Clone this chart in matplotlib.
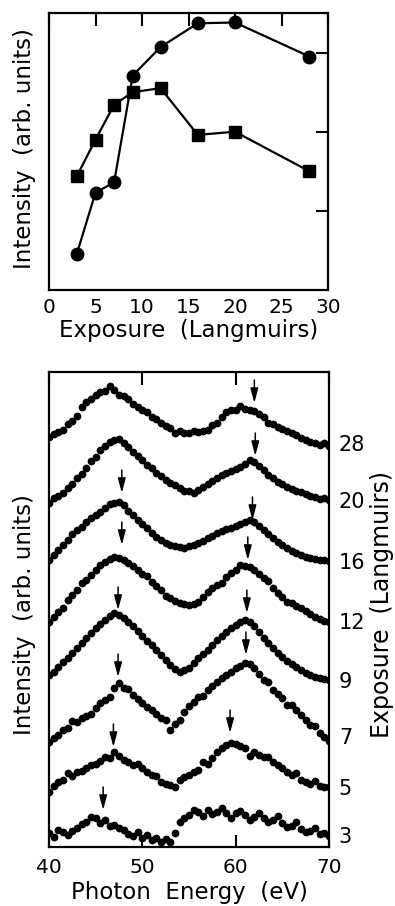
import numpy as np
import matplotlib
matplotlib.use('Agg')
import matplotlib.pyplot as plt
import matplotlib.transforms as mtransforms


# uptake curves, intensity vs exposure
exposure = [3, 5, 7, 9, 12, 16, 20, 28]
intensity_circles = [0.46, 1.23, 1.36, 2.71, 3.07, 3.37, 3.38, 2.95]
intensity_squares = [1.44, 1.90, 2.34, 2.50, 2.55, 1.96, 2.00, 1.50]

# spectra, 40-70 eV in 0.5 eV steps, intensity relative to each curve's baseline
photon_energy = np.arange(40.0, 70.01, 0.5)
spectrum_labels = ['28', '20', '16', '12', '9', '7', '5', '3']
spectrum_offsets = [402, 345, 284, 224, 165, 109, 58, 10]

spec_28 = [8, 11, 13, 15, 21, 24, 29, 38, 43, 46, 50, 53, 54, 59, 55, 50, 49, 46, 41, 38,
           35, 33, 28, 26, 22, 19, 17, 12, 14, 12, 12, 14, 13, 14, 15, 20, 22, 28, 33, 35,
           35, 39, 36, 35, 34, 31, 28, 22, 21, 18, 16, 14, 12, 10, 7, 5, 3, 2, 0, 2, -1]
spec_20 = [-1, 4, 6, 9, 14, 18, 24, 28, 34, 41, 45, 52, 56, 60, 62, 63, 59, 55, 50, 46,
           42, 37, 34, 29, 26, 22, 19, 17, 14, 11, 11, 9, 12, 15, 18, 21, 24, 27, 29, 31,
           33, 35, 38, 42, 40, 36, 32, 27, 24, 20, 18, 15, 13, 11, 10, 8, 6, 5, 3, 4, 2]
spec_16 = [3, 8, 13, 18, 23, 29, 33, 36, 41, 45, 48, 51, 55, 59, 60, 61, 58, 52, 48, 43,
           39, 35, 30, 26, 23, 20, 18, 17, 16, 15, 17, 18, 20, 22, 25, 27, 30, 32, 34, 35,
           37, 39, 41, 43, 41, 37, 33, 29, 25, 21, 18, 15, 12, 10, 8, 6, 5, 4, 3, 3, 2]
spec_12 = [1, 6, 11, 15, 23, 28, 33, 40, 43, 48, 53, 58, 61, 64, 66, 65, 63, 60, 57, 53,
           49, 47, 41, 37, 33, 27, 25, 22, 20, 19, 18, 19, 21, 26, 31, 35, 38, 40, 46, 50,
           53, 58, 57, 56, 53, 49, 45, 42, 35, 30, 26, 21, 20, 17, 15, 12, 9, 6, 4, 2, 1]
spec_9 = [7, 10, 15, 20, 24, 29, 34, 39, 44, 49, 54, 58, 62, 66, 69, 67, 64, 60, 56, 51,
          46, 41, 37, 32, 27, 22, 17, 13, 10, 12, 14, 19, 24, 28, 32, 37, 42, 46, 50, 54,
          57, 60, 62, 60, 56, 50, 44, 39, 34, 29, 25, 21, 18, 15, 12, 9, 7, 5, 4, 3, 2]
spec_7 = [-4, 0, 3, 8, 10, 17, 16, 20, 22, 24, 30, 35, 38, 41, 50, 55, 50, 49, 43, 39,
          35, 31, 28, 24, 20, 18, 8, 14, 18, 26, 32, 36, 41, 42, 48, 52, 56, 60, 63, 66,
          70, 72, 75, 74, 70, 64, 58, 56, 48, 44, 40, 33, 33, 28, 23, 18, 13, 12, 5, 1, -3]
spec_5 = [-3, 3, 7, 9, 16, 13, 17, 18, 21, 24, 25, 28, 32, 31, 37, 33, 29, 27, 24, 25,
          21, 17, 14, 13, 7, 5, 4, 2, 9, 12, 14, 17, 19, 27, 25, 31, 37, 41, 44, 46,
          45, 43, 41, 33, 37, 34, 32, 32, 27, 24, 21, 17, 14, 16, 9, 7, 5, 8, 3, 2, 2]
spec_3 = [4, 0, 7, 5, 2, 6, 9, 13, 15, 20, 19, 14, 17, 11, 12, 9, 7, 3, 1, 5,
          -1, 2, -3, -1, -5, -2, -5, 4, 15, 19, 22, 27, 25, 21, 27, 23, 25, 29, 24, 19,
          24, 26, 22, 17, 20, 24, 19, 15, 17, 21, 14, 10, 11, 15, 8, 5, 6, 9, 3, 4, 1]
spectra = [spec_28, spec_20, spec_16, spec_12, spec_9, spec_7, spec_5, spec_3]

# arrows marking the two peaks: (curve index, photon energy, height above baseline)
arrow_curve = [0, 1, 2, 2, 3, 3, 4, 4, 5, 5, 6, 6, 7]
arrow_energy = [62.0, 62.1, 47.8, 61.8, 47.8, 61.3, 47.4, 61.2, 47.4, 61.1, 46.9, 59.4, 45.8]
arrow_height = [42, 46, 70, 43, 78, 63, 72, 69, 61, 83, 42, 56, 27]

plt.rcParams['font.family'] = ['DejaVu Sans']
plt.rcParams['font.size'] = 14.5

fig = plt.figure(figsize=(3.95, 9.06), dpi=100)

# top panel
ax1 = fig.add_axes([49/395, 1 - 290/906, 279/395, 277/906])
ax1.plot(exposure, intensity_circles, '-o', color='k', lw=1.6, ms=9)
ax1.plot(exposure, intensity_squares, '-s', color='k', lw=1.6, ms=8)
ax1.set_xlim(0, 30)
ax1.set_ylim(0, 3.5)
ax1.set_xticks(range(0, 31, 5))
ax1.set_yticks([1, 2, 3])
ax1.tick_params(direction='in', length=9, width=1.5, top=True, right=True,
                bottom=False, left=False, labelleft=False, pad=6)
ax1.set_xlabel('Exposure  (Langmuirs)', fontsize=16.5, labelpad=1)
ax1.set_ylabel('Intensity  (arb. units)', fontsize=16.5)
ax1.yaxis.set_label_coords(-0.045, 0.51)
for s in ax1.spines.values():
    s.set_linewidth(1.6)

# bottom panel
ax2 = fig.add_axes([49/395, 1 - 847/906, 280/395, 475/906])
for spec, off in zip(spectra, spectrum_offsets):
    ax2.plot(photon_energy, np.array(spec) + off, 'o', color='k', ms=5.6, mew=0)

for c, e, h in zip(arrow_curve, arrow_energy, arrow_height):
    base = spectrum_offsets[c] + h
    ax2.annotate('', xy=(e, base), xytext=(e, base + 23),
                 arrowprops=dict(arrowstyle='-|>,head_width=0.16,head_length=0.6',
                                 color='k', lw=1.1, shrinkA=0, shrinkB=0))

trans = mtransforms.blended_transform_factory(ax2.transAxes, ax2.transData)
for lab, off in zip(spectrum_labels, spectrum_offsets):
    ax2.text(1.035, off, lab, transform=trans, ha='left', va='center', fontsize=15)

ax2.set_xlim(40, 70)
ax2.set_ylim(0, 475)
ax2.set_xticks([40, 50, 60, 70])
ax2.set_yticks([])
ax2.tick_params(direction='in', length=9, width=1.5, top=True, pad=8)
ax2.set_xlabel('Photon  Energy  (eV)', fontsize=16.5, labelpad=3)
ax2.set_ylabel('Intensity  (arb. units)', fontsize=16.5)
ax2.yaxis.set_label_coords(-0.045, 0.49)
for s in ax2.spines.values():
    s.set_linewidth(1.6)

fig.text(382/395, 1 - 605/906, 'Exposure  (Langmuirs)', rotation=90,
         ha='center', va='center', fontsize=17)

fig.savefig('out.png', dpi=100)
